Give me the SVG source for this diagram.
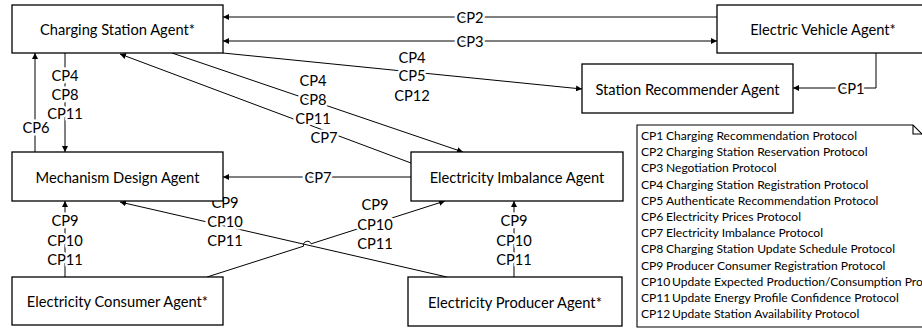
<svg xmlns="http://www.w3.org/2000/svg" width="922" height="331" viewBox="0 0 922 331">
<style>
.box{fill:#fff;stroke:#000;stroke-width:1.3}
.nt{font-family:Lato,"Liberation Sans",sans-serif;font-size:14.7px;fill:#000;text-anchor:middle;dominant-baseline:central}
.ln{fill:none;stroke:#000;stroke-width:1}
.lb{font-family:Lato,"Liberation Sans",sans-serif;font-size:14.7px;fill:#000;text-anchor:middle;dominant-baseline:central;stroke:#fff;stroke-width:5;stroke-linejoin:round;paint-order:stroke}
.lg{font-family:Lato,"Liberation Sans",sans-serif;font-size:12.1px;fill:#000}
</style>
<defs>
<marker id="ah" markerWidth="7" markerHeight="7" refX="6" refY="3.5" orient="auto" markerUnits="userSpaceOnUse">
<path d="M0,0.5 L6,3.5 L0,6.5 Z" fill="#000"/>
</marker>
<marker id="as" markerWidth="7" markerHeight="7" refX="0" refY="3.5" orient="auto" markerUnits="userSpaceOnUse">
<path d="M6,0.5 L0,3.5 L6,6.5 Z" fill="#000"/>
</marker>
</defs>
<rect width="922" height="331" fill="#fff"/>

<g id="connectors">
<line class="ln" x1="717" y1="17" x2="223" y2="17" marker-end="url(#ah)"/>
<text class="lb" x="470" y="17">CP2</text>
<line class="ln" x1="223" y1="41" x2="717" y2="41" marker-start="url(#as)" marker-end="url(#ah)"/>
<text class="lb" x="470" y="41">CP3</text>
<polyline class="ln" points="876,53 876,88 793,88" marker-end="url(#ah)"/>
<text class="lb" x="851" y="88">CP1</text>
<line class="ln" x1="223" y1="53" x2="582" y2="89" marker-end="url(#ah)"/>
<text class="lb" x="412" y="57">CP4</text>
<text class="lb" x="412" y="75">CP5</text>
<text class="lb" x="412" y="95">CP12</text>
<line class="ln" x1="35" y1="152" x2="35" y2="53" marker-end="url(#ah)"/>
<text class="lb" x="36" y="127">CP6</text>
<line class="ln" x1="65" y1="53" x2="65" y2="152" marker-end="url(#ah)"/>
<text class="lb" x="65" y="75">CP4</text>
<text class="lb" x="65" y="94">CP8</text>
<text class="lb" x="65" y="113">CP11</text>
<line class="ln" x1="172" y1="53" x2="463" y2="152" marker-end="url(#ah)"/>
<line class="ln" x1="411" y1="163" x2="120" y2="54" marker-end="url(#ah)"/>
<text class="lb" x="313" y="80">CP4</text>
<text class="lb" x="313" y="99">CP8</text>
<text class="lb" x="313" y="118">CP11</text>
<text class="lb" x="324" y="137">CP7</text>
<line class="ln" x1="411" y1="177" x2="223" y2="177" marker-end="url(#ah)"/>
<text class="lb" x="318" y="177">CP7</text>
<line class="ln" x1="65" y1="277" x2="65" y2="201" marker-end="url(#ah)"/>
<text class="lb" x="65" y="220">CP9</text>
<text class="lb" x="65" y="240">CP10</text>
<text class="lb" x="65" y="259">CP11</text>
<line class="ln" x1="447" y1="277" x2="120" y2="202" marker-end="url(#ah)"/>
<text class="lb" x="225" y="202">CP9</text>
<text class="lb" x="225" y="221">CP10</text>
<text class="lb" x="225" y="240">CP11</text>
<path class="ln" d="M207,277 L303.5,246.2 A4,4 0 0 1 311.1,243.8 L445,201" marker-end="url(#ah)"/>
<text class="lb" x="375" y="204">CP9</text>
<text class="lb" x="375" y="224">CP10</text>
<text class="lb" x="375" y="243">CP11</text>
<line class="ln" x1="514" y1="277" x2="514" y2="201" marker-end="url(#ah)"/>
<text class="lb" x="514" y="220">CP9</text>
<text class="lb" x="514" y="240">CP10</text>
<text class="lb" x="514" y="259">CP11</text>
</g>

<g id="charging-station">
<rect class="box" x="12" y="5" width="211" height="48"/>
<text class="nt" x="117.5" y="29">Charging Station Agent*</text>
</g>
<g id="electric-vehicle">
<rect class="box" x="717" y="5" width="212" height="48"/>
<text class="nt" x="823" y="29">Electric Vehicle Agent*</text>
</g>
<g id="station-recommender">
<rect class="box" x="582" y="64" width="211" height="49"/>
<text class="nt" x="687.5" y="89">Station Recommender Agent</text>
</g>
<g id="mechanism-design">
<rect class="box" x="12" y="152" width="211" height="49"/>
<text class="nt" x="117.5" y="177">Mechanism Design Agent</text>
</g>
<g id="electricity-imbalance">
<rect class="box" x="411" y="152" width="212" height="49"/>
<text class="nt" x="517" y="177">Electricity Imbalance Agent</text>
</g>
<g id="electricity-consumer">
<rect class="box" x="12" y="277" width="211" height="48"/>
<text class="nt" x="117.5" y="301">Electricity Consumer Agent*</text>
</g>
<g id="electricity-producer">
<rect class="box" x="408" y="277" width="214" height="49"/>
<text class="nt" x="515" y="301.5">Electricity Producer Agent*</text>
</g>

<g id="legend">
<path d="M637,125 H913 L930,142 V327 H637 Z" fill="#fff" stroke="#000" stroke-width="1.1"/>
<path d="M913,125 V134 H922" fill="none" stroke="#000" stroke-width="1.1"/>
<text class="lg" y="140"><tspan x="641">CP1</tspan><tspan x="666">Charging Recommendation Protocol</tspan></text>
<text class="lg" y="156.2"><tspan x="641">CP2</tspan><tspan x="666">Charging Station Reservation Protocol</tspan></text>
<text class="lg" y="172.4"><tspan x="641">CP3</tspan><tspan x="666">Negotiation Protocol</tspan></text>
<text class="lg" y="188.6"><tspan x="641">CP4</tspan><tspan x="666">Charging Station Registration Protocol</tspan></text>
<text class="lg" y="204.8"><tspan x="641">CP5</tspan><tspan x="666">Authenticate Recommendation Protocol</tspan></text>
<text class="lg" y="221"><tspan x="641">CP6</tspan><tspan x="666">Electricity Prices Protocol</tspan></text>
<text class="lg" y="237.2"><tspan x="641">CP7</tspan><tspan x="666">Electricity Imbalance Protocol</tspan></text>
<text class="lg" y="253.4"><tspan x="641">CP8</tspan><tspan x="666">Charging Station Update Schedule Protocol</tspan></text>
<text class="lg" y="269.6"><tspan x="641">CP9</tspan><tspan x="666">Producer Consumer Registration Protocol</tspan></text>
<text class="lg" y="285.8"><tspan x="641">CP10</tspan><tspan x="672">Update Expected Production/Consumption Protocol</tspan></text>
<text class="lg" y="302"><tspan x="641">CP11</tspan><tspan x="672">Update Energy Profile Confidence Protocol</tspan></text>
<text class="lg" y="318.2"><tspan x="641">CP12</tspan><tspan x="672">Update Station Availability Protocol</tspan></text>
</g>
</svg>
